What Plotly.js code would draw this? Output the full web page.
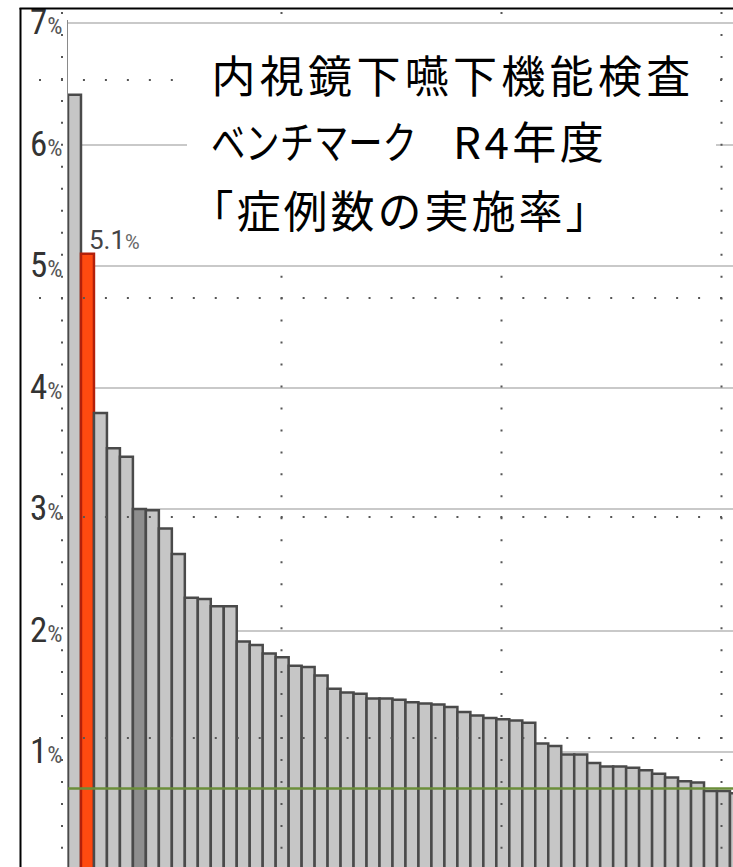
<!DOCTYPE html>
<html>
<head>
<meta charset="utf-8">
<script src="https://cdn.plot.ly/plotly-3.0.1.min.js"></script>
<style>
  html, body { margin: 0; padding: 0; background: #fff; }
  #chart { width: 733px; height: 867px; }
  .annotation[data-index="1"] text { letter-spacing: 4.3px; }
  .annotation[data-index="2"] text { transform-box: fill-box; transform-origin: 0 50%; transform: scaleX(0.78); }
  .annotation[data-index="3"] text { letter-spacing: 3.5px; }
  .annotation[data-index="4"] text { letter-spacing: 3px; }
</style>
</head>
<body>
<div id="chart"></div>
<script>
// ---- data ----
const facilities = ["1","2","3","4","5","6","7","8","9","10","11","12","13","14","15","16","17","18","19","20","21","22","23","24","25","26","27","28","29","30","31","32","33","34","35","36","37","38","39","40","41","42","43","44","45","46","47","48","49","50","51","52"];
const rates = [6.41, 5.10, 3.79, 3.50, 3.43, 3.00, 2.99, 2.84, 2.63, 2.27, 2.26, 2.20, 2.20, 1.91, 1.88, 1.81, 1.78, 1.71, 1.70, 1.63, 1.52, 1.49, 1.48, 1.44, 1.44, 1.43, 1.41, 1.40, 1.39, 1.37, 1.33, 1.30, 1.28, 1.27, 1.26, 1.24, 1.07, 1.05, 0.98, 0.98, 0.91, 0.88, 0.88, 0.87, 0.85, 0.82, 0.79, 0.76, 0.75, 0.68, 0.68, 0.66];
const ownFacility = "2";      // highlighted (red) bar
const peerFacility = "6";     // darker bar
const averageRate = 0.70;     // green reference line
const yTickValues = [1, 2, 3, 4, 5, 6, 7];
const titleLine1 = "内視鏡下嚥下機能検査";
const titleLine2a = "ベンチマーク";
const titleLine2b = "R4年度";
const titleLine3 = "「症例数の実施率」";

// ---- layout helpers (pixel -> paper) ----
const L = 68, T = 20, W = 665, H = 847;
const xp = px => (px - L) / W;
const yp = py => (T + H - py) / H;

const ownIdx = facilities.indexOf(ownFacility);
const fillColors = facilities.map(f => f === ownFacility ? '#ff4a10' : (f === peerFacility ? '#8e8e8e' : '#c6c6c6'));
const lineColors = facilities.map(f => f === ownFacility ? '#b3200a' : '#4a4a4a');

const tickText = yTickValues.map(v => v + '<span style="font-size:24px;fill:#555">%</span>');

const trace = {
  type: 'bar',
  x: facilities,
  y: rates,
  marker: { color: fillColors, line: { color: lineColors, width: 2.5 } },
  hoverinfo: 'none',
  cliponaxis: true
};

const shapes = [];
// average line
shapes.push({ type: 'line', xref: 'paper', yref: 'y', x0: 0, x1: 1, y0: averageRate, y1: averageRate,
  line: { color: '#6b8e3a', width: 2.5 } });
// dotted overlay grid
const dotDash = '2px,19.97px';
[62, 281.5, 501.5, 721.5].forEach(x => shapes.push({ type: 'line', xref: 'paper', yref: 'paper',
  x0: xp(x), x1: xp(x), y0: yp(12), y1: yp(900), line: { color: '#555', width: 2, dash: dotDash } }));
[80, 298, 517, 738].forEach(y => shapes.push({ type: 'line', xref: 'paper', yref: 'paper',
  x0: xp(39), x1: xp(780), y0: yp(y), y1: yp(y), line: { color: '#555', width: 2, dash: dotDash } }));
// white title box
shapes.push({ type: 'rect', xref: 'paper', yref: 'paper', x0: xp(187), x1: xp(716), y0: yp(262), y1: yp(26),
  fillcolor: '#ffffff', line: { width: 0 } });
// outer frame (left + top)
shapes.push({ type: 'line', xref: 'paper', yref: 'paper', x0: xp(20.5), x1: xp(20.5), y0: yp(8), y1: yp(900),
  line: { color: '#000', width: 2 } });
shapes.push({ type: 'line', xref: 'paper', yref: 'paper', x0: xp(19.5), x1: xp(800), y0: yp(8.5), y1: yp(8.5),
  line: { color: '#000', width: 2 } });

const titleFont = { family: '"Noto Sans CJK JP", "Noto Sans CJK SC", sans-serif', size: 44, color: '#000' };
const annotations = [
  { // 0: value label of own facility
    x: ownIdx, y: rates[ownIdx], xref: 'x', yref: 'y', xanchor: 'left', yanchor: 'bottom',
    xshift: 0, yshift: -3, showarrow: false,
    text: rates[ownIdx].toFixed(1) + '<span style="font-size:20px;fill:#666">%</span>',
    font: { family: 'Roboto, "Liberation Sans", sans-serif', size: 26, color: '#444' } },
  { x: xp(452.7), y: yp(74.5), xref: 'paper', yref: 'paper', xanchor: 'center', yanchor: 'middle',
    showarrow: false, text: titleLine1, font: titleFont },
  { x: xp(209), y: yp(140), xref: 'paper', yref: 'paper', xanchor: 'left', yanchor: 'middle',
    showarrow: false, text: titleLine2a, font: titleFont },
  { x: xp(530), y: yp(140), xref: 'paper', yref: 'paper', xanchor: 'center', yanchor: 'middle',
    showarrow: false, text: titleLine2b, font: titleFont },
  { x: xp(400.5), y: yp(209), xref: 'paper', yref: 'paper', xanchor: 'center', yanchor: 'middle',
    showarrow: false, text: titleLine3, font: titleFont },
  { x: xp(46), y: yp(880), xref: 'paper', yref: 'paper', xanchor: 'right', yanchor: 'middle',
    showarrow: false, text: '0', font: { family: '"Liberation Sans Narrow", "Roboto Condensed", Roboto, sans-serif', size: 35, color: '#333' } }
];

const layout = {
  width: 733, height: 867,
  margin: { l: L, r: 733 - L - W, t: T, b: 867 - T - H, pad: 0 },
  paper_bgcolor: '#ffffff', plot_bgcolor: '#ffffff',
  showlegend: false,
  bargap: 0,
  xaxis: { type: 'category', range: [-0.5, -0.5 + W / 12.98], showticklabels: false, showgrid: false,
    zeroline: false, showline: false, ticks: '', fixedrange: true },
  yaxis: { range: [0.0535, 7.0247], tickvals: yTickValues, ticktext: tickText, showgrid: true,
    gridcolor: '#c9c9c9', gridwidth: 2, showline: true, linecolor: '#8a8a8a', linewidth: 1.5,
    zeroline: false, ticks: '', ticklabelstandoff: -3, ticklabelshift: -1,
    tickfont: { family: '"Liberation Sans Narrow", "Roboto Condensed", Roboto, sans-serif', size: 35, color: '#333' },
    fixedrange: true },
  shapes: shapes,
  annotations: annotations
};

Plotly.newPlot('chart', [trace], layout, { displayModeBar: false, staticPlot: true });
</script>
</body>
</html>
